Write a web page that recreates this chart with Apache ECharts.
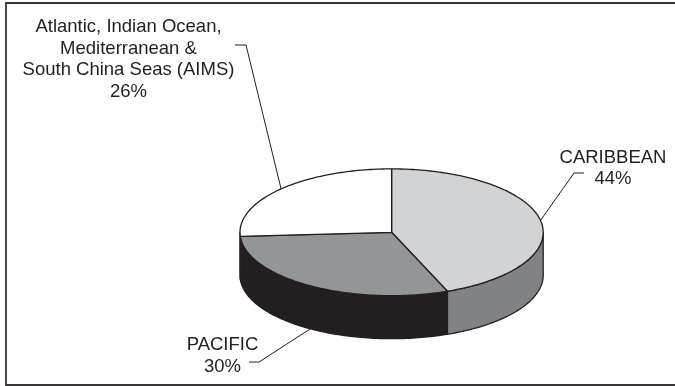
<!DOCTYPE html>
<html>
<head>
<meta charset="utf-8">
<style>html,body{margin:0;padding:0;background:#fff}#chart{width:675px;height:386px}</style>
<script src="https://cdn.jsdelivr.net/npm/echarts@6/dist/echarts.min.js"></script>
</head>
<body>
<div id="chart"></div>
<script>
// Regional shares, clockwise from twelve o'clock
const regions = ['CARIBBEAN', 'PACIFIC', 'AIMS'];
const shares = [44, 30, 26];
const labelLines = [
  ['CARIBBEAN', '44%'],
  ['PACIFIC', '30%'],
  ['Atlantic, Indian Ocean,', 'Mediterranean &', 'South China Seas (AIMS)', '26%']
];
const topColors = ['#d1d3d4', '#939598', '#ffffff'];
const sideColors = ['#808285', '#231f20', '#ffffff'];

// Disc geometry
const CX = 391.6, CY = 232.3, RX = 151.6, RY = 63.4, DEPTH = 43;
const INK = '#231f20';
const FONT = '18.5px "Liberation Sans", Arial, sans-serif';
const LINE_H = 21.7;

// Label block centre-x, first line middle y, and leader elbow (start, bend)
const labelLayout = [
  { x: 613, y: 157.5, from: [584, 173], bend: [574, 173], onSide: false },
  { x: 222.5, y: 345, from: [249, 362], bend: [259, 362], onSide: true },
  { x: 128.5, y: 27, from: [235, 45], bend: [246, 45], onSide: false }
];

const total = shares.reduce((a, b) => a + b, 0);
const TAU = Math.PI * 2;
const rim = (t, dy) => [CX + RX * Math.sin(t), CY - RY * Math.cos(t) + (dy || 0)];
const arc = (a, b, dy) => {
  const n = Math.max(2, Math.ceil(Math.abs(b - a) / 0.02));
  const pts = [];
  for (let i = 0; i <= n; i++) pts.push(rim(a + (b - a) * i / n, dy));
  return pts;
};
const edge = { stroke: INK, lineWidth: 1.3, lineJoin: 'round' };

function sliceAngles(index) {
  let before = 0;
  for (let i = 0; i < index; i++) before += shares[i];
  return [before / total * TAU, (before + shares[index]) / total * TAU];
}

function renderSlice(params, api) {
  const i = api.value(0);
  const [a, b] = sliceAngles(i);
  const children = [];

  // Wall: only the part of the rim facing the viewer
  const wa = Math.max(a, Math.PI / 2), wb = Math.min(b, Math.PI * 1.5);
  if (wb > wa) {
    children.push({
      type: 'polygon',
      shape: { points: arc(wa, wb, 0).concat(arc(wb, wa, DEPTH)) },
      style: Object.assign({ fill: sideColors[i] }, edge)
    });
  }
  // Top face
  children.push({
    type: 'polygon',
    z2: 2,
    shape: { points: [[CX, CY]].concat(arc(a, b, 0)) },
    style: Object.assign({ fill: topColors[i] }, edge)
  });

  // Leader line runs to the rim at the slice's middle angle
  const lay = labelLayout[i];
  const end = rim((a + b) / 2, lay.onSide ? DEPTH : 0);
  children.push({
    type: 'polyline',
    z2: 3,
    shape: { points: [lay.from, lay.bend, end] },
    style: { stroke: INK, lineWidth: 1, fill: null }
  });

  // Label text
  labelLines[i].forEach((line, k) => {
    children.push({
      type: 'text',
      z2: 4,
      style: {
        text: line, x: lay.x, y: lay.y + k * LINE_H,
        align: 'center', verticalAlign: 'middle',
        font: FONT, fill: INK
      }
    });
  });
  return { type: 'group', children };
}

const chart = echarts.init(document.getElementById('chart'), null, { renderer: 'canvas' });
chart.setOption({
  animation: false,
  backgroundColor: '#fff',
  // Frame: open at the right, where it runs off the page
  graphic: [{
    type: 'rect', silent: true,
    shape: { x: 6, y: 3, width: 680, height: 382 },
    style: { fill: 'none', stroke: '#3a3637', lineWidth: 1.8 }
  }],
  series: [{
    type: 'custom',
    coordinateSystem: 'none',
    renderItem: renderSlice,
    data: shares.map((v, i) => ({ name: regions[i], value: [i, v] }))
  }]
});
</script>
</body>
</html>
